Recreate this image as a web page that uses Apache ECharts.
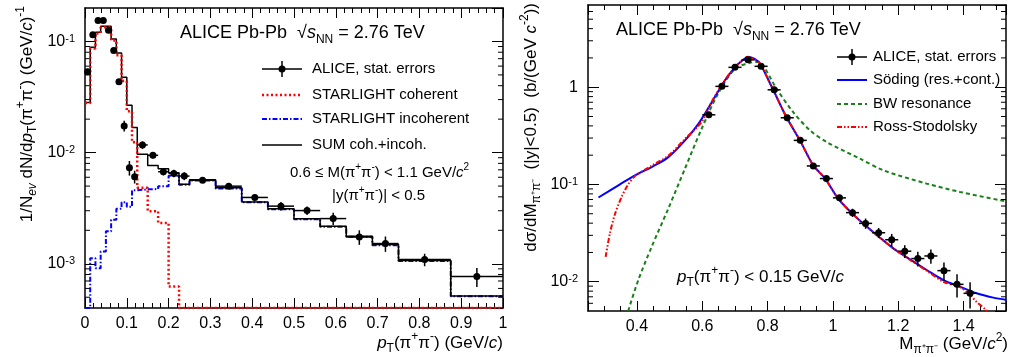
<!DOCTYPE html>
<html><head><meta charset="utf-8">
<script src="https://cdn.jsdelivr.net/npm/echarts@6/dist/echarts.min.js"></script>
<style>html,body{margin:0;padding:0;background:#fff}#c{width:1012px;height:357px}</style>
</head><body><div id="c"></div>
<script>
// ================= LEFT PANEL: pT spectrum =================
const ptEdges = [0,0.0125,0.025,0.0375,0.05,0.0625,0.075,0.0875,0.1,0.1125,0.125,0.15,0.175,0.2,0.225,0.25,0.3125,0.375,0.4375,0.5,0.5625,0.625,0.6875,0.75,0.875,1.0];
const sumHist   = [0.0283,0.0888,0.121,0.137,0.137,0.105,0.0788,0.0476,0.0267,0.0168,0.00966,0.00767,0.00716,0.0066,0.00518,0.0057,0.00483,0.0036,0.00312,0.00254,0.00217,0.00177,0.00149,0.00107,0.000514];
const cohHist   = [0.0280,0.0865,0.118,0.134,0.134,0.102,0.075,0.044,0.0235,0.0124,0.00483,0.00297,0.00233,0.000624,0,0,0,0,0,0,0,0,0,0,0];
const incohHist = [0,0.00112,0.00091,0.00129,0.00196,0.00249,0.00312,0.00358,0.00325,0.00459,0.00467,0.0047,0.00499,0.0062,0.00514,0.0056,0.00475,0.00357,0.0031,0.00252,0.00215,0.00175,0.00147,0.00106,0.00051];
const ptData    = [0.0535,0.1148,0.1545,0.1545,0.126,0.0828,0.0435,0.0174,0.00731,0.00607,0.01172,0.00946,0.00673,0.0065,0.00615,0.00565,0.00499,0.00395,0.0033,0.00301,0.00255,0.00174,0.00152,0.00109,0.000767];
const ptErr     = [0.002,0.003,0.004,0.004,0.003,0.0025,0.0018,0.0019,0.0011,0.0008,0.0009,0.0006,0.0005,0.0005,0.0005,0.0002,0.0002,0.00025,0.0003,0.00026,0.00033,0.00026,0.00024,0.00014,0.00015];
const leftYMin = 4e-4, leftYMax = 0.2;
const leftMinorY = [5e-4,6e-4,7e-4,8e-4,9e-4,2e-3,3e-3,4e-3,5e-3,6e-3,7e-3,8e-3,9e-3,2e-2,3e-2,4e-2,5e-2,6e-2,7e-2,8e-2,9e-2];

// ================= RIGHT PANEL: mass spectrum =================
const massX   = [0.62,0.66,0.70,0.74,0.78,0.82,0.86,0.90,0.94,0.98,1.02,1.06,1.10,1.14,1.18,1.22,1.26,1.30,1.34,1.38,1.42];
const massY   = [0.52,1.02,1.60,1.91,1.64,0.94,0.485,0.284,0.155,0.115,0.0728,0.0513,0.0398,0.0319,0.0270,0.0206,0.0173,0.0184,0.0130,0.0094,0.0076];
const massErr = [0.035,0.05,0.06,0.07,0.06,0.04,0.02,0.012,0.007,0.005,0.005,0.005,0.0048,0.0038,0.004,0.0031,0.003,0.0031,0.0028,0.0025,0.0023];
const massHalfBin = 0.02;
const sodingX = [0.282,0.343,0.394,0.445,0.496,0.547,0.588,0.629,0.669,0.70,0.72,0.741,0.76,0.777,0.817,0.858,0.899,0.94,0.976,1.016,1.057,1.098,1.134,1.185,1.236,1.287,1.338,1.389,1.44,1.491,1.532];
const sodingY = [0.0734,0.098,0.124,0.151,0.191,0.284,0.42,0.70,1.17,1.60,1.85,2.04,1.95,1.74,0.94,0.49,0.284,0.157,0.115,0.0716,0.051,0.0382,0.0302,0.022,0.017,0.0132,0.0104,0.0089,0.0076,0.00686,0.0065];
const bwX = [0.373,0.404,0.445,0.496,0.547,0.598,0.648,0.70,0.751,0.77,0.787,0.828,0.879,0.93,0.981,1.083,1.154,1.287,1.389,1.512,1.532];
const bwY = [0.005,0.0104,0.0229,0.0566,0.1456,0.374,0.855,1.54,1.80,1.82,1.65,0.96,0.55,0.36,0.273,0.184,0.14,0.102,0.0838,0.0689,0.067];
const rsX = [0.304,0.317,0.333,0.353,0.373,0.394,0.445,0.496,0.547,0.598,0.629,0.669,0.70,0.72,0.741,0.76,0.777,0.817,0.858,0.899,0.94,0.976,1.016,1.057,1.098,1.134,1.185,1.236,1.287,1.338,1.389,1.42,1.44,1.47,1.48];
const rsY = [0.018,0.0313,0.050,0.0745,0.1,0.122,0.156,0.198,0.294,0.44,0.71,1.18,1.61,1.86,2.05,1.95,1.74,0.94,0.49,0.284,0.157,0.115,0.0716,0.051,0.0382,0.0302,0.022,0.0168,0.013,0.0100,0.0088,0.0073,0.0062,0.0051,0.0048];
const rightXMin = 0.25, rightXMax = 1.53, rightYMin = 0.005, rightYMax = 7;
const rightMinorY = [6e-3,7e-3,8e-3,9e-3,2e-2,3e-2,4e-2,5e-2,6e-2,7e-2,8e-2,9e-2,0.2,0.3,0.4,0.5,0.6,0.7,0.8,0.9,2,3,4,5,6];

// ================= helpers =================
const FONT = 'Liberation Sans';
const RED = '#ff0000', BLUE = '#0000ff', GREEN = '#1a801a';

function histData(edges, vals, floor) {
  const d = vals.map((v, i) => [edges[i], v > 0 ? v : floor]);
  d.push([edges[edges.length - 1], vals[vals.length - 1] > 0 ? vals[vals.length - 1] : floor]);
  return d;
}
function pairs(xs, ys) { return xs.map((x, i) => [x, ys[i]]); }

function errSeries(xi, yi, data, r) {
  return {
    type: 'custom', xAxisIndex: xi, yAxisIndex: yi, data: data, z: 10, clip: false,
    encode: {x: 0, y: 1},
    renderItem: function (params, api) {
      const x = api.value(0), y = api.value(1), xl = api.value(2), xh = api.value(3), ey = api.value(4);
      const c = api.coord([x, y]), l = api.coord([xl, y]), h = api.coord([xh, y]);
      const t = api.coord([x, y + ey]), b = api.coord([x, Math.max(y - ey, 1e-9)]);
      const st = {stroke: '#000', lineWidth: 1.5};
      return {type: 'group', children: [
        {type: 'line', shape: {x1: l[0], y1: l[1], x2: h[0], y2: h[1]}, style: st},
        {type: 'line', shape: {x1: t[0], y1: t[1], x2: b[0], y2: b[1]}, style: st},
        {type: 'circle', shape: {cx: c[0], cy: c[1], r: r}, style: {fill: '#000'}}
      ]};
    }
  };
}
function minorTicks(xi, yi, vals, xmin, xmax, len) {
  return {
    type: 'custom', xAxisIndex: xi, yAxisIndex: yi, silent: true, clip: false, z: 5,
    data: vals.map(v => [xmin, v]), encode: {x: 0, y: 1},
    renderItem: function (params, api) {
      const v = api.value(1);
      const a = api.coord([xmin, v]), b = api.coord([xmax, v]);
      const st = {stroke: '#000', lineWidth: 1};
      return {type: 'group', children: [
        {type: 'line', shape: {x1: a[0], y1: a[1], x2: a[0] + len, y2: a[1]}, style: st},
        {type: 'line', shape: {x1: b[0], y1: b[1], x2: b[0] - len, y2: b[1]}, style: st}
      ]};
    }
  };
}
function powLabel(v) {
  const e = Math.round(Math.log10(v));
  if (e === 0) return '1';
  return '10{sup|' + e + '}';
}
const axisLine = {show: true, onZero: false, lineStyle: {color: '#000', width: 1.5}};
const labelRich = {sup: {fontSize: 11, fontFamily: FONT, color: '#000', verticalAlign: 'top', lineHeight: 12}};

function xAx(grid, pos, min, max, opts, showLabel, fmt, showEnds) {
  return Object.assign({
    type: 'value', gridIndex: grid, position: pos, min: min, max: max,
    axisLine: axisLine, splitLine: {show: false},
    axisTick: {show: true, inside: true, length: 10, lineStyle: {color: '#000', width: 1}},
    minorTick: {show: true, length: 5, lineStyle: {color: '#000', width: 1}},
    axisLabel: {show: showLabel, fontSize: 16, fontFamily: FONT, color: '#000', margin: 8,
      showMinLabel: !!showEnds, showMaxLabel: !!showEnds, formatter: fmt}
  }, opts);
}
function yAx(grid, pos, min, max, showLabel) {
  return {
    type: 'log', logBase: 10, gridIndex: grid, position: pos, min: min, max: max,
    axisLine: axisLine, splitLine: {show: false},
    axisTick: {show: true, inside: true, length: 11, lineStyle: {color: '#000', width: 1}},
    axisLabel: {show: showLabel, fontSize: 16, fontFamily: FONT, color: '#000', margin: 10,
      showMinLabel: false, showMaxLabel: false, formatter: powLabel, rich: labelRich}
  };
}

// text helpers (graphic)
const R = (sz) => ({
  sup: {fontSize: Math.round(sz * 0.68), fontFamily: FONT, fill: '#000', verticalAlign: 'top', lineHeight: Math.round(sz * 0.75)},
  sub: {fontSize: Math.round(sz * 0.68), fontFamily: FONT, fill: '#000', verticalAlign: 'bottom', lineHeight: Math.round(sz * 0.75)},
  it: {fontSize: sz, fontFamily: FONT, fill: '#000', fontStyle: 'italic'},
  itsub: {fontSize: Math.round(sz * 0.68), fontFamily: FONT, fill: '#000', fontStyle: 'italic', verticalAlign: 'bottom', lineHeight: Math.round(sz * 0.75)}
});
function txt(x, y, text, sz, align, rot) {
  return {
    type: 'text', x: x, y: y, rotation: rot || 0, z: 100,
    style: {text: text, fontSize: sz, fontFamily: FONT, fill: '#000',
      align: align || 'left', textAlign: align || 'left', verticalAlign: 'middle', textVerticalAlign: 'middle',
      lineHeight: Math.round(sz * 1.4), rich: R(sz)}
  };
}
function seg(x1, y1, x2, y2, color, dash, w) {
  return {type: 'line', z: 100, shape: {x1: x1, y1: y1, x2: x2, y2: y2},
    style: {stroke: color, lineWidth: w || 2, lineDash: dash || null}};
}
function legendPoint(cx, cy, x1, x2) {
  return [seg(x1, cy, x2, cy, '#000', null, 1.5), seg(cx, cy - 8, cx, cy + 8, '#000', null, 1.5),
    {type: 'circle', z: 101, shape: {cx: cx, cy: cy, r: 3.5}, style: {fill: '#000'}}];
}

const DOT = [2, 2.5], DASHDOT = [5, 2, 1.5, 2], GDASH = [4, 3], DDOT = [5, 2, 1.5, 2, 1.5, 2];

const option = {
  animation: false,
  backgroundColor: '#fff',
  grid: [
    {left: 85, top: 8, width: 418, height: 300, containLabel: false, outerBoundsMode: 'none'},
    {left: 588, top: 5, width: 418, height: 306, containLabel: false, outerBoundsMode: 'none'}
  ],
  xAxis: [
    xAx(0, 'bottom', 0, 1, {interval: 0.1, minorTick: {show: true, splitNumber: 5, length: 5, lineStyle: {color: '#000'}}}, true,
      v => (v === 0 || v === 1) ? String(v) : v.toFixed(1), true),
    xAx(0, 'top', 0, 1, {interval: 0.1, minorTick: {show: true, splitNumber: 5, length: 5, lineStyle: {color: '#000'}}}, false),
    xAx(1, 'bottom', rightXMin, rightXMax, {minInterval: 0.2, maxInterval: 0.2, minorTick: {show: true, splitNumber: 4, length: 5, lineStyle: {color: '#000'}}}, true,
      v => Math.abs(v - 1) < 1e-9 ? '1' : v.toFixed(1), false),
    xAx(1, 'top', rightXMin, rightXMax, {minInterval: 0.2, maxInterval: 0.2, minorTick: {show: true, splitNumber: 4, length: 5, lineStyle: {color: '#000'}}}, false)
  ],
  yAxis: [
    yAx(0, 'left', leftYMin, leftYMax, true),
    yAx(0, 'right', leftYMin, leftYMax, false),
    yAx(1, 'left', rightYMin, rightYMax, true),
    yAx(1, 'right', rightYMin, rightYMax, false)
  ],
  series: [
    minorTicks(0, 0, leftMinorY, 0, 1, 5),
    minorTicks(2, 2, rightMinorY, rightXMin, rightXMax, 5),
    {type: 'line', xAxisIndex: 0, yAxisIndex: 0, step: 'end', symbol: 'none', z: 3,
      data: histData(ptEdges, incohHist, leftYMin), lineStyle: {color: BLUE, width: 2, type: DASHDOT}},
    {type: 'line', xAxisIndex: 0, yAxisIndex: 0, step: 'end', symbol: 'none', z: 4,
      data: histData(ptEdges, sumHist, leftYMin), lineStyle: {color: '#000', width: 1.5}},
    {type: 'line', xAxisIndex: 0, yAxisIndex: 0, step: 'end', symbol: 'none', z: 5,
      data: histData(ptEdges, cohHist, leftYMin), lineStyle: {color: RED, width: 2.5, type: DOT}},
    errSeries(0, 0, ptData.map((v, i) => [(ptEdges[i] + ptEdges[i + 1]) / 2, v, ptEdges[i], ptEdges[i + 1], ptErr[i]]), 3.5),

    {type: 'line', xAxisIndex: 2, yAxisIndex: 2, symbol: 'none', smooth: 0.3, z: 3,
      data: pairs(bwX, bwY), lineStyle: {color: GREEN, width: 2, type: GDASH}},
    {type: 'line', xAxisIndex: 2, yAxisIndex: 2, symbol: 'none', smooth: 0.3, z: 4,
      data: pairs(sodingX, sodingY), lineStyle: {color: BLUE, width: 2}},
    {type: 'line', xAxisIndex: 2, yAxisIndex: 2, symbol: 'none', smooth: 0.3, z: 5,
      data: pairs(rsX, rsY), lineStyle: {color: RED, width: 2, type: DDOT}},
    errSeries(2, 2, massY.map((v, i) => [massX[i], v, massX[i] - massHalfBin, massX[i] + massHalfBin, massErr[i]]), 3.5)
  ],
  graphic: [
    // left panel texts
    txt(180, 33, 'ALICE Pb-Pb  \u221A{it|s}{sub|NN} = 2.76 TeV', 18),
    ...legendPoint(282, 69, 262, 302),
    txt(312, 69, 'ALICE, stat. errors', 15),
    seg(262, 95, 302, 95, RED, DOT, 2.5),
    txt(312, 95, 'STARLIGHT coherent', 15),
    seg(262, 119, 302, 119, BLUE, DASHDOT, 2),
    txt(312, 119, 'STARLIGHT incoherent', 15),
    seg(262, 145, 302, 145, '#000', null, 1.5),
    txt(312, 145, 'SUM coh.+incoh.', 15),
    txt(290, 173, '0.6 \u2264 M(\u03C0{sup|+}\u03C0{sup|-}) < 1.1 GeV/{it|c}{sup|2}', 15),
    txt(332, 196, '|y(\u03C0{sup|+}\u03C0{sup|-})| < 0.5', 15),
    txt(503, 343, '{it|p}{sub|T}(\u03C0{sup|+}\u03C0{sup|-}) (GeV/{it|c})', 17, 'right'),
    txt(27, 6, '1/N{itsub|ev} dN/d{it|p}{sub|T}(\u03C0{sup|+}\u03C0{sup|-}) (GeV/{it|c}){sup|-1}', 17, 'right', Math.PI / 2),
    // right panel texts
    txt(616, 30, 'ALICE Pb-Pb  \u221A{it|s}{sub|NN} = 2.76 TeV', 18),
    ...legendPoint(852, 57, 837, 867),
    txt(873, 57, 'ALICE, stat. errors', 15),
    seg(837, 80, 867, 80, BLUE, null, 2),
    txt(873, 80, 'S\u00F6ding (res.+cont.)', 15),
    seg(837, 104, 867, 104, GREEN, GDASH, 2),
    txt(873, 104, 'BW resonance', 15),
    seg(837, 127, 867, 127, RED, DDOT, 2),
    txt(873, 127, 'Ross-Stodolsky', 15),
    txt(677, 277, '{it|p}{sub|T}(\u03C0{sup|+}\u03C0{sup|-}) < 0.15 GeV/{it|c}', 17),
    txt(1008, 344, 'M{sub|\u03C0\u207A\u03C0\u207B} (GeV/{it|c}{sup|2})', 17, 'right'),
    txt(531, 3, 'd\u03C3/dM{sub|\u03C0\u207A\u03C0\u207B}  (|y|<0.5)  (b/(GeV {it|c}{sup|-2}))', 17, 'right', Math.PI / 2)
  ]
};
const chart = echarts.init(document.getElementById('c'), null, {renderer: 'canvas'});
chart.setOption(option);
</script></body></html>
